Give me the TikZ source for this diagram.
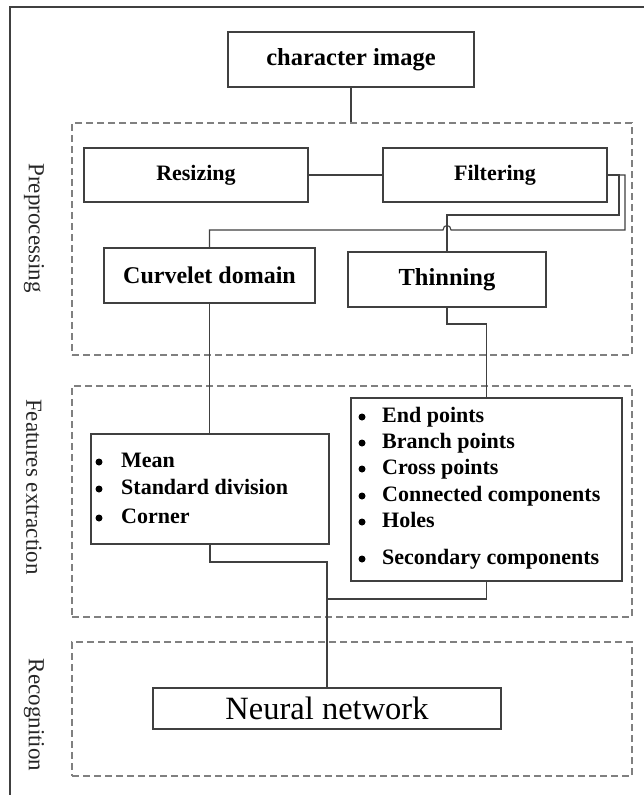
\documentclass[tikz,border=0pt]{standalone}
\usepackage{fontspec}
\setmainfont{Liberation Serif}
\definecolor{linec}{HTML}{404040}
\definecolor{dashc}{HTML}{808080}
\begin{document}
\begin{tikzpicture}[x=1pt,y=-1pt,
  boxst/.style={draw=linec,line width=1.3pt,fill=white,inner sep=0pt,font=\bfseries},
  stage/.style={draw=dashc,line width=1.2pt,dash pattern=on 7pt off 4pt,inner sep=0pt},
  conn/.style={draw=linec,line width=1.1pt},
  side/.style={rotate=-90,font=\fontsize{23}{26}\selectfont,text=black!85},
  item/.style={anchor=base west,font=\bfseries\fontsize{22}{26}\selectfont,inner sep=0pt},
  bul/.style={circle,fill=black,inner sep=0pt,minimum size=7pt}]
\useasboundingbox (0,0) rectangle (644,795);
\fill[white] (0,0) rectangle (644,795);
% outer frame (left and top edges visible)
\draw[linec,line width=1.3pt] (10,795) -- (10,7) -- (644,7);

% stage frames
\node[stage,minimum width=560pt,minimum height=232pt] (pre) at (352,239) {};
\node[stage,minimum width=560pt,minimum height=231pt] (feat) at (352,501.5) {};
\node[stage,minimum width=560pt,minimum height=134pt] (rec) at (352,709) {};

\node[side] (lpre) at (34,228) {Preprocessing};
\node[side] (lfeat) at (34,487) {Features extraction};
\node[side] (lrec) at (34,715) {Recognition};

% boxes
\node[boxst,minimum width=246pt,minimum height=55pt,font=\bfseries\fontsize{24.5}{28}\selectfont] (char) at (351,59.5) {character image};
\node[boxst,minimum width=224pt,minimum height=54pt,font=\bfseries\fontsize{22}{25}\selectfont] (resize) at (196,175) {Resizing};
\node[boxst,minimum width=224pt,minimum height=54pt,font=\bfseries\fontsize{22}{25}\selectfont] (filter) at (495,175) {Filtering};
\node[boxst,minimum width=211pt,minimum height=55pt,font=\bfseries\fontsize{24}{27}\selectfont] (curv) at (209.5,275.5) {Curvelet domain};
\node[boxst,minimum width=198pt,minimum height=55pt,font=\bfseries\fontsize{24.5}{28}\selectfont] (thin) at (447,279.5) {Thinning};
\node[boxst,minimum width=238pt,minimum height=110pt] (mean) at (210,489) {};
\node[boxst,minimum width=271pt,minimum height=183pt] (endp) at (486.5,489.5) {};
\node[boxst,minimum width=348pt,minimum height=41pt,font=\fontsize{32.5}{36}\selectfont] (neural) at (327,708.5) {Neural network};

% list items
\foreach \t/\y [count=\i] in {Mean/460,Standard division/487,Corner/516}{
  \node[bul] (mb\i) at (99,\y+2) {};
  \node[item] (mt\i) at (121,\y+7.5) {\t};
}
\foreach \t/\y [count=\i] in {End points/415,Branch points/441,Cross points/467,Connected components/494,Holes/520,Secondary components/557}{
  \node[bul] (eb\i) at (362,\y+2) {};
  \node[item] (et\i) at (382,\y+7.5) {\t};
}

% connectors
\draw[conn] (char.south) -- (char.south |- pre.north);
\draw[conn] (resize.east) -- (filter.west);
\draw[conn] (filter.east) -- (619,175) -- (619,215) -- (thin.north |- 0,215) -- (thin.north);
\draw[conn] (filter.east) -- (625,175) -- (625,230) -- (451,230)
   .. controls (451,224) and (443,224) .. (443,230) -- (curv.north |- 0,230) -- (curv.north);
\draw[conn] (curv.south) -- (curv.south |- mean.north);
\draw[conn] (thin.south) -- (447,324) -- (endp.north |- 0,324) -- (endp.north);
\draw[conn] (mean.south) -- (210,562) -- (neural.north |- 0,562) -- (neural.north);
\draw[conn] (endp.south) -- (486.5,599) -- (neural.north |- 0,599);
\end{tikzpicture}
\end{document}
